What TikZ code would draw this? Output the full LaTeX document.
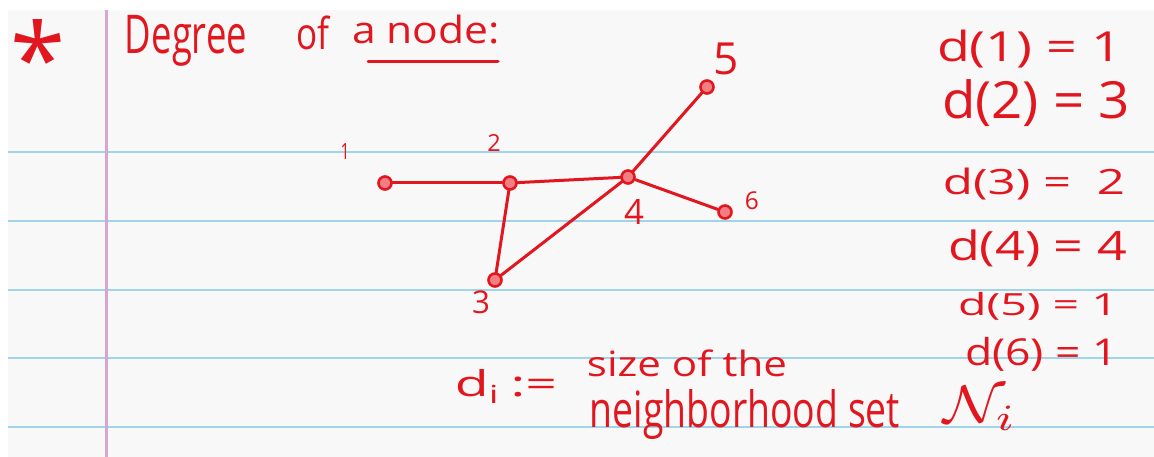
\documentclass[tikz,border=0pt]{standalone}
\usepackage{fontspec}
\usepackage{graphicx}
\setmainfont{Open Sans}
\definecolor{ink}{RGB}{226,22,30}
\definecolor{rule}{RGB}{160,212,232}
\definecolor{marginc}{RGB}{214,166,208}
\definecolor{paper}{RGB}{248,248,248}
\newcommand\hwbox[3]{\resizebox*{#1pt}{#2pt}{#3}}
\newcommand\hwh[2]{\resizebox*{!}{#1pt}{#2}}
\tikzset{
  hw/.style={text=ink, inner sep=0pt, anchor=center},
  vtx/.style={circle, draw=ink, line width=2.6pt, fill=ink!55, minimum size=13pt, inner sep=0pt},
  edge/.style={draw=ink, line width=3pt, line cap=round},
  ruleline/.style={draw=rule, line width=2.2pt},
  marginline/.style={draw=marginc, line width=3pt}
}
\begin{document}
\begin{tikzpicture}[x=1pt,y=-1pt]
\useasboundingbox (0,0) rectangle (1154,457);
\fill[white] (0,0) rectangle (1154,457);
\fill[paper] (8,10) rectangle (1154,457);
% ruled lines
\foreach \yy in {152,221,290,358,427} \draw[ruleline] (8,\yy) -- (1154,\yy);
\draw[marginline] (106,10) -- (106,457);

% title
\node[hw] (star) at (38,58) {\fontsize{100}{100}\selectfont *};
\node[hw] (degree) at (186,40.5) {\hwbox{122}{51}{Degree}};
\node[hw] (of) at (313,33) {\hwbox{33}{34}{of}};
\node[hw] (anode) at (426,29.5) {\hwbox{148}{29}{a node:}};
\coordinate (ulA) at (368,62);
\coordinate (ulB) at (498,62);
\draw[edge] (ulA) -- (ulB);

% graph
\node[vtx] (v1) at (385,183) {};
\node[vtx] (v2) at (510,183) {};
\node[vtx] (v4) at (628,177) {};
\node[vtx] (v5) at (707,87) {};
\node[vtx] (v6) at (725,212) {};
\node[vtx] (v3) at (495,280) {};
\draw[edge] (v1) -- (v2);
\draw[edge] (v2) -- (v4);
\draw[edge] (v2) -- (v3);
\draw[edge] (v3) -- (v4);
\draw[edge] (v4) -- (v5);
\draw[edge] (v4) -- (v6);

\node[hw] (l1) at (345,152) {\hwbox{9}{16}{1}};
\node[hw] (l2) at (494,143) {\hwh{17}{2}};
\node[hw] (l3) at (481,302) {\hwh{23}{3}};
\node[hw] (l4) at (634,212) {\hwh{25}{4}};
\node[hw] (l5) at (726,59) {\hwh{32}{5}};
\node[hw] (l6) at (752,201) {\hwh{18}{6}};

% degrees
\node[hw] (d1) at (1029.5,49) {\hwbox{185}{38}{d(1) = 1}};
\node[hw] (d2) at (1036,103.5) {\hwbox{188}{47}{d(2) = 3}};
\node[hw] (d3) at (1034,184) {\hwbox{182}{32}{d(3) =\ \ 2}};
\node[hw] (d4) at (1037.5,248.5) {\hwbox{179}{37}{d(4) = 4}};
\node[hw] (d5) at (1038,306) {\hwbox{160}{28}{d(5) = 1}};
\node[hw] (d6) at (1041.5,354) {\hwbox{153}{34}{d(6) = 1}};

% definition
\node[hw] (di) at (506,386.5) {\hwbox{102}{33}{d\textsubscript{i}\,:=}};
\node[hw] (size) at (687,363.5) {\hwbox{200}{27}{size of the}};
\node[hw] (neigh) at (745,415) {\hwbox{310}{50}{neighborhood set}};
\node[hw] (Ni) at (980,408) {\hwbox{74}{44}{$\mathcal{N}_i$}};
\end{tikzpicture}
\end{document}
